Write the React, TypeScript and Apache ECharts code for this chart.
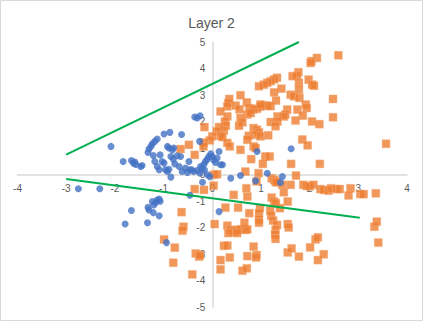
import React, { useEffect, useRef } from "react";
import * as echarts from "echarts";

const blueData: number[][] = [
  [-2.08, 1.06], [-1.83, 0.49], [-1.66, 0.53], [-1.62, 0.43], [-1.59, 0.47], [-1.57, 0.38],
  [-1.47, 0.3], [-1.44, 0.34], [-2.75, -0.54], [-2.31, -0.54], [-1.3, 0.96], [-1.26, 1.06],
  [-1.23, 1.16], [-1.18, 1.25], [-1.13, 1.34], [-0.99, 1.53], [-0.87, 1.59], [-0.63, 1.51],
  [-1.32, 0.83], [-1.21, 0.72], [-1.18, 0.49], [-1.07, 0.74], [-0.92, 1.06], [-0.89, 1.0],
  [-0.82, 0.93], [-0.79, 1.0], [-1.03, 0.49], [-0.99, 0.43], [-1.13, 0.3], [-1.09, 0.18],
  [-0.96, 0.18], [-0.92, 0.11], [-0.89, 0.2], [-0.85, 0.68], [-0.8, 0.58], [-0.72, 0.71],
  [-0.65, 0.68], [-0.77, 0.4], [-0.68, 0.3], [-0.62, 0.11], [-0.55, 0.24], [-0.51, 0.08],
  [-0.46, 0.18], [-0.48, 0.49], [-0.85, -0.1], [-0.42, 0.18], [-0.38, 0.11], [-0.36, 2.17],
  [-0.31, 2.13], [-0.25, 2.22], [-0.26, 1.25], [-0.24, 0.3], [-0.21, 0.24], [-0.17, 0.39],
  [-0.14, 0.49], [-0.1, 0.58], [-0.07, 0.68], [-0.03, 0.78], [0.0, 0.68], [0.03, 0.55],
  [0.07, 0.45], [0.1, 0.62], [0.14, 0.87], [0.17, 0.37], [0.21, 0.37], [-0.2, -0.29],
  [-0.1, -0.01], [-0.05, -0.08], [-0.46, -0.78], [0.14, -1.4], [0.38, -0.14], [0.58, -0.04],
  [0.89, -0.24], [0.92, 0.87], [1.13, 0.05], [1.4, -0.3], [1.44, -0.08], [1.62, 0.97],
  [-1.16, -1.06], [-1.13, -0.96], [-1.09, -0.93], [-1.07, -1.01], [-1.2, -1.15], [-1.23, -1.02],
  [-1.32, -1.24], [-1.3, -1.34], [-1.21, -1.44], [-1.09, -1.56], [-1.33, -1.82], [-1.66, -1.36],
  [-1.79, -1.87], [-0.94, -2.57], [-0.31, 0.15], [-0.25, 0.05], [-0.16, 0.18]
];

const orangeData: number[][] = [
  [2.59, 4.5], [2.15, 4.4], [2.04, 4.28], [2.02, 4.21], [1.77, 3.86], [1.74, 3.73], [1.65, 3.71],
  [1.33, 3.65], [1.27, 3.59], [1.2, 3.52], [1.13, 3.46], [1.06, 3.39], [0.96, 3.33], [1.42, 3.24],
  [1.27, 3.1], [1.98, 3.58], [2.05, 3.39], [2.09, 3.35], [1.78, 3.46], [1.78, 3.2], [1.61, 3.01],
  [1.68, 2.95], [1.79, 2.89], [1.31, 2.79], [2.48, 2.85], [2.48, 2.16], [0.58, 2.99], [0.71, 2.72],
  [0.76, 2.51], [0.35, 2.85], [0.33, 2.7], [0.31, 2.57], [0.48, 2.6], [0.56, 2.46], [0.17, 2.38],
  [1.06, 2.6], [1.13, 2.6], [1.2, 2.58], [0.99, 2.56], [0.92, 2.48], [0.85, 2.46], [0.72, 2.26],
  [0.79, 2.32], [0.99, 2.64], [1.92, 2.64], [1.94, 2.51], [1.75, 2.45], [1.54, 2.45], [1.5, 2.26],
  [1.47, 2.19], [1.34, 2.19], [1.86, 2.22], [2.05, 2.0], [2.2, 1.9], [1.71, 2.04], [1.34, 2.0],
  [1.2, 1.98], [1.3, 1.82], [0.58, 2.13], [0.62, 1.97], [0.55, 1.84], [0.31, 2.19], [0.26, 2.0],
  [0.28, 1.84], [0.24, 1.66], [0.14, 1.79], [0.09, 1.63], [-0.16, 1.79], [0.0, 1.44], [-0.05, 1.29],
  [-0.17, 1.21], [0.17, 1.46], [0.21, 1.41], [0.85, 1.75], [0.92, 1.69], [0.96, 1.59], [0.89, 1.5],
  [0.99, 1.44], [1.15, 1.48], [0.75, 1.46], [0.72, 1.31], [0.31, 1.19], [0.36, 1.06], [0.58, 0.93],
  [0.85, 1.06], [0.89, 1.0], [1.85, 1.32], [1.96, 1.1], [3.57, 1.16], [1.09, 0.68], [1.18, 0.68],
  [0.8, 0.58], [1.04, 0.4], [1.62, 0.4], [2.21, 0.4], [0.68, 0.11], [0.95, 0.05], [1.72, -0.04],
  [-0.48, 1.12], [-0.36, 0.74], [-0.18, 1.06], [-0.65, 0.96], [0.03, -0.01], [0.1, 0.01],
  [0.03, -0.42], [-0.36, -0.55], [-0.17, -0.58], [1.22, -0.14], [1.27, -0.2], [1.3, -0.26], [1.32, -0.3],
  [0.7, -0.52], [0.91, -0.26], [1.44, -0.39], [1.47, -0.67], [1.61, -0.39], [1.87, -0.39],
  [1.94, -0.43], [2.0, -0.45], [2.08, -0.39], [2.22, -0.55], [2.29, -0.58], [2.39, -0.61],
  [2.44, -0.52], [2.55, -0.55], [2.62, -0.55], [2.84, -0.52], [2.8, -0.79], [3.04, -0.74],
  [3.11, -0.74], [3.36, -0.71], [0.44, -0.77], [0.72, -0.83], [1.22, -0.87], [1.27, -1.02],
  [1.31, -1.08], [1.55, -1.02], [1.39, -1.27], [0.27, -1.25], [0.53, -1.25], [0.76, -1.46],
  [0.98, -1.27], [0.96, -1.46], [0.96, -1.7], [0.96, -1.82], [1.19, -1.37], [1.21, -1.56],
  [1.25, -1.74], [1.33, -1.9], [1.3, -2.09], [1.55, -1.87], [1.57, -2.0], [0.05, -1.87],
  [0.31, -1.93], [0.38, -2.09], [0.44, -2.16], [0.51, -2.09], [0.58, -2.07], [0.68, -2.09],
  [0.72, -2.07], [0.33, -2.21], [0.51, -2.21], [0.66, -1.82], [1.29, -2.27], [1.3, -2.43],
  [-0.63, -1.42], [-0.59, -1.97], [-0.61, -2.12], [-0.99, -2.45], [-0.77, -2.76], [-0.8, -3.33],
  [-0.34, -2.98], [-0.27, -3.1], [-0.25, -3.04], [-0.41, -3.77], [0.24, -2.69], [0.31, -2.68],
  [0.17, -3.23], [0.36, -3.13], [0.17, -3.58], [0.62, -3.63], [0.71, -3.54], [0.72, -3.08],
  [0.85, -2.72], [0.91, -3.04], [0.9, -3.13], [1.55, -2.94], [1.63, -2.79], [1.78, -3.1],
  [2.01, -2.75], [2.12, -2.45], [2.17, -2.37], [2.17, -3.23], [2.29, -3.01], [3.33, -1.97],
  [3.38, -1.78], [3.41, -2.57]
];

const upperLine: number[][] = [[-3, 0.75], [1.78, 5]];
const lowerLine: number[][] = [[-3, -0.17], [3.03, -1.63]];

const xTicks = { min: -4, max: 4, interval: 1 };
const yTicks = { min: -5, max: 5, interval: 1 };

const W = 423;
const H = 321;
const GRID = { left: 17.5, right: 16, top: 42, bottom: 14 };

export default function App() {
  const ref = useRef<HTMLDivElement>(null);
  useEffect(() => {
    if (!ref.current) return;
    const chart = echarts.init(ref.current, null, { renderer: "svg" });
    const labelStyle = { color: "#595959", fontSize: 10, fontFamily: "Liberation Sans, Arial, sans-serif" };
    const gridW = W - GRID.left - GRID.right;
    const gridH = H - GRID.top - GRID.bottom;
    const xZeroFrac = (0 - xTicks.min) / (xTicks.max - xTicks.min);
    const yZeroFrac = (0 - yTicks.min) / (yTicks.max - yTicks.min);
    chart.setOption({
      animation: false,
      backgroundColor: "#ffffff",
      title: {
        text: "Layer 2",
        left: "center",
        top: 11,
        textStyle: { color: "#595959", fontSize: 14, fontWeight: "normal", fontFamily: "Liberation Sans, Arial, sans-serif" },
      },
      graphic: [
        {
          type: "rect",
          shape: { x: 0.5, y: 0.5, width: W - 1, height: H - 1 },
          style: { fill: "none", stroke: "#d9d9d9", lineWidth: 1 },
          silent: true,
        },
      ],
      grid: { ...GRID, containLabel: false },
      xAxis: {
        type: "value",
        position: "bottom",
        offset: -gridH * yZeroFrac,
        min: xTicks.min,
        max: xTicks.max,
        interval: xTicks.interval,
        axisLine: { onZero: false, lineStyle: { color: "#d9d9d9", width: 1.5 } },
        axisTick: { show: false },
        splitLine: { show: false },
        axisLabel: { ...labelStyle, margin: 9 },
      },
      yAxis: {
        type: "value",
        position: "left",
        offset: -gridW * xZeroFrac,
        min: yTicks.min,
        max: yTicks.max,
        interval: yTicks.interval,
        axisLine: { onZero: false, lineStyle: { color: "#d9d9d9", width: 1.5 } },
        axisTick: { show: false },
        splitLine: { show: false },
        axisLabel: { ...labelStyle, margin: 7 },
      },
      series: [
        {
          type: "scatter",
          data: orangeData,
          symbol: "rect",
          symbolSize: 8,
          itemStyle: { color: "#ED7D31", borderColor: "#f4b183", borderWidth: 0.5 },
        },
        {
          type: "scatter",
          data: blueData,
          symbol: "circle",
          symbolSize: 7,
          itemStyle: { color: "#4472C4" },
        },
        {
          type: "line",
          data: upperLine,
          showSymbol: false,
          symbol: "none",
          lineStyle: { color: "#00B050", width: 2 },
        },
        {
          type: "line",
          data: lowerLine,
          showSymbol: false,
          symbol: "none",
          lineStyle: { color: "#00B050", width: 2 },
        },
      ],
    });
    return () => chart.dispose();
  }, []);
  return (
    <div
      ref={ref}
      style={{ position: "fixed", left: 0, top: 0, width: W, height: H }}
    />
  );
}
